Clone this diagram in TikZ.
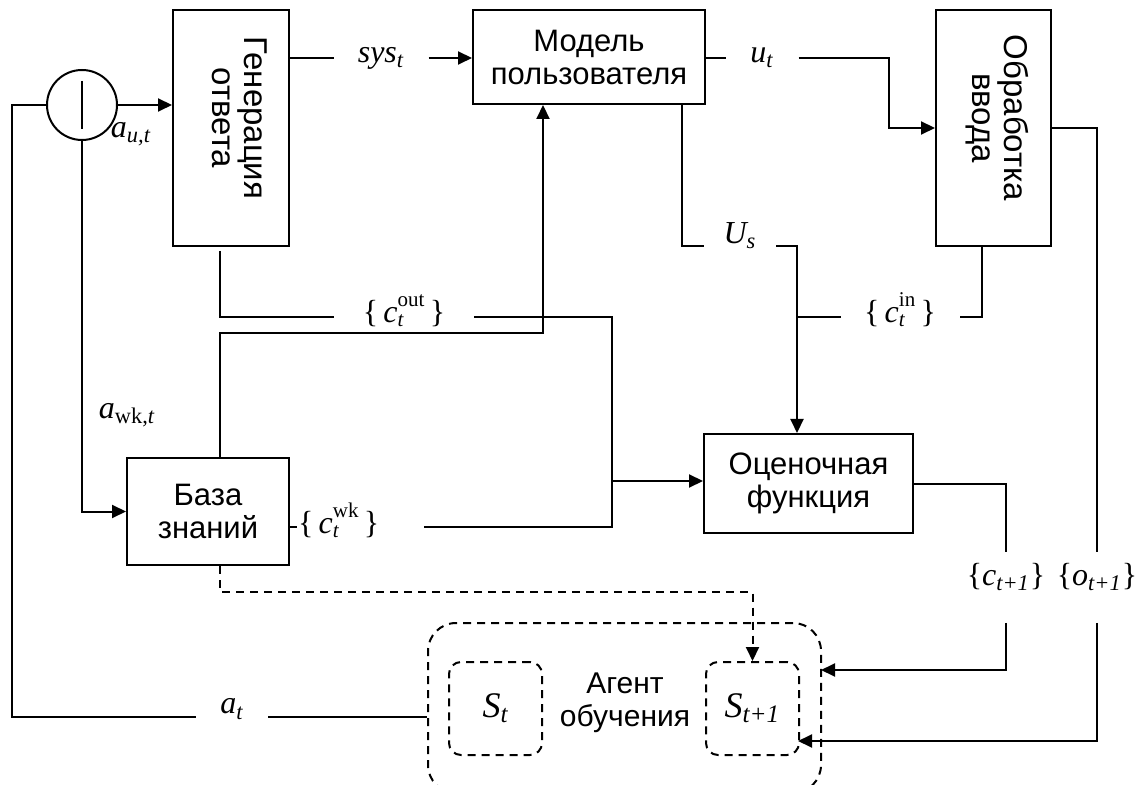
\documentclass[tikz,border=0pt]{standalone}
\usepackage{fontspec}
\setmainfont{Liberation Sans}
\newfontfamily\tm{Liberation Serif}
\usetikzlibrary{arrows.meta}
\newcommand{\cset}[1]{\{\,{\itshape c}\raisebox{-2pt}{\fontsize{10.5}{10}\selectfont\begin{tabular}[b]{@{}l@{}}#1\\\itshape t\end{tabular}}\,\}}

\begin{document}
\begin{tikzpicture}[x=.5pt,y=-.5pt,>={Triangle[length=7pt,width=6.5pt]},line width=1pt,
  blk/.style={draw,inner sep=0pt,align=center,font=\fontsize{15.5}{16.5}\selectfont},
  dblk/.style={draw,inner sep=0pt,dash pattern=on 4pt off 3pt},
  dsh/.style={dash pattern=on 4pt off 3pt},
  lbl/.style={inner sep=0pt,font=\tm\fontsize{16}{18}\selectfont},
  vtxt/.style={rotate=-90,align=center,font=\fontsize{16.5}{16}\selectfont}]
  \useasboundingbox (0,0) rectangle (1139,785);
  \clip (0,0) rectangle (1139,785);
  \node[circle,draw,minimum size=35pt,inner sep=0pt] (sum) at (82,105) {};
  \draw ([yshift=12pt]sum.center) -- ([yshift=-12pt]sum.center);
  \node[blk,minimum width=58pt,minimum height=118pt] (gen) at (231,128) {};
  \node[vtxt] (gentxt) at (240,118) {Генерация\\ответа};
  \node[blk,minimum width=116pt,minimum height=47pt] (model) at (589,57) {Модель\\пользователя};
  \node[blk,minimum width=57.5pt,minimum height=118pt] (proc) at (993.5,128) {};
  \node[vtxt] (proctxt) at (997,118) {Обработка\\ввода};
  \node[blk,minimum width=81pt,minimum height=53.5pt] (kb) at (208,511.5) {База\\знаний};
  \node[blk,minimum width=104.5pt,minimum height=49.5pt] (eval) at (808.5,483.5) {Оценочная\\функция};
  \node[dblk,rounded corners=14pt,minimum width=196.5pt,minimum height=85pt] (agent) at (624.5,708) {};
  \node[align=center,inner sep=0pt,font=\fontsize{15}{16.5}\selectfont] (agtxt) at (625,703) {Агент\\обучения};
  \node[dblk,rounded corners=6pt,minimum size=46.5pt,font=\tm\fontsize{18}{20}\selectfont] (st) at (495.5,708.5) {{\itshape S}\textsubscript{\itshape t}};
  \node[dblk,rounded corners=6pt,minimum size=46.5pt,font=\tm\fontsize{18}{20}\selectfont] (st1) at (752.5,708.5) {{\itshape S}\textsubscript{\itshape t+1}};

  \node[lbl,minimum width=46.5pt] (sys) at (381,58) {{\itshape sys}\textsubscript{\itshape t}};
  \node[lbl,minimum width=35.5pt] (ut) at (762,58) {{\itshape u}\textsubscript{\itshape t}};
  \node[lbl,minimum width=35pt] (us) at (740,236) {{\itshape U}\textsubscript{\itshape s}};
  \node[lbl,minimum width=69pt] (cout) at (404,313) {\cset{out}};
  \node[lbl,minimum width=58.5pt] (cin) at (900,313) {\cset{in}};
  \node[lbl,anchor=west] (cwk) at (297,523) {\cset{wk}};
  \node[lbl] (clab) at (1006,577) {\{{\itshape c}\textsubscript{\itshape t+1}\}};
  \node[lbl] (olab) at (1097,577) {\{{\itshape o}\textsubscript{\itshape t+1}\}};
  \node[lbl,minimum width=35pt] (at) at (232,709) {{\itshape a}\textsubscript{\itshape t}};
  \node[lbl] (aut) at (131,134) {{\itshape a}\textsubscript{\itshape u,t}};
  \node[lbl] (awk) at (127,415) {{\itshape a}\textsubscript{wk,{\itshape t}}};

  \coordinate (gx) at (220,0);
  \coordinate (mx) at (682,0);
  \coordinate (px) at (982,0);
  \coordinate (up) at (543,333);
  \coordinate (dn) at (752.5,592);
  \coordinate (ux) at (797,246);
  \coordinate (jn) at (612,481);
  \coordinate (ca) at (821,670);
  \coordinate (oa) at (798,741);

  \draw (sum.west) -- (12,105) |- ([yshift=-4pt]at.west);
  \draw ([yshift=-4pt]at.east) -- ([yshift=-4pt]at.east -| agent.west);
  \draw[->] (sum.east) -- (sum.east -| gen.west);
  \draw[->] (sum.south) |- (kb.west);
  \draw (sys.west -| gen.east) -- (sys.west);
  \draw[->] (sys.east) -- (sys.east -| model.west);
  \draw (ut.west -| model.east) -- (ut.west);
  \draw[->] (ut.east) -| ([xshift=-23pt]proc.west) -- (proc.west);
  \draw ([yshift=-2pt]gen.south -| gx) |- ([yshift=-2pt]cout.west);
  \draw ([yshift=-2pt]cout.east) -| (jn);
  \draw ([yshift=-2pt]cwk.west -| kb.east) -- ([yshift=-2pt]cwk.west);
  \draw ([xshift=22pt,yshift=-2pt]cwk.east) -| (jn);
  \draw[->] (jn) -- (jn -| eval.west);
  \draw[->] (kb.north -| gx) |- (up) -- (up |- model.south);
  \draw[dsh,->] (kb.south -| gx) |- (dn) -- (st1.north);
  \draw (model.south -| mx) |- ([yshift=-5pt]us.west);
  \draw[->] ([yshift=-5pt]us.east) -- (ux) -- (ux |- eval.north);
  \draw (proc.south -| px) |- ([yshift=-2pt]cin.east);
  \draw ([yshift=-2pt]cin.west) -- ([yshift=-2pt]cin.west -| ux);
  \draw (eval.east) -| ([yshift=5pt]clab.north);
  \draw[->] ([yshift=-15.5pt]clab.south) |- (ca);
  \draw (proc.east) -| ([yshift=5pt]olab.north);
  \draw[->] ([yshift=-15.5pt]olab.south) |- (oa);
\end{tikzpicture}
\end{document}
